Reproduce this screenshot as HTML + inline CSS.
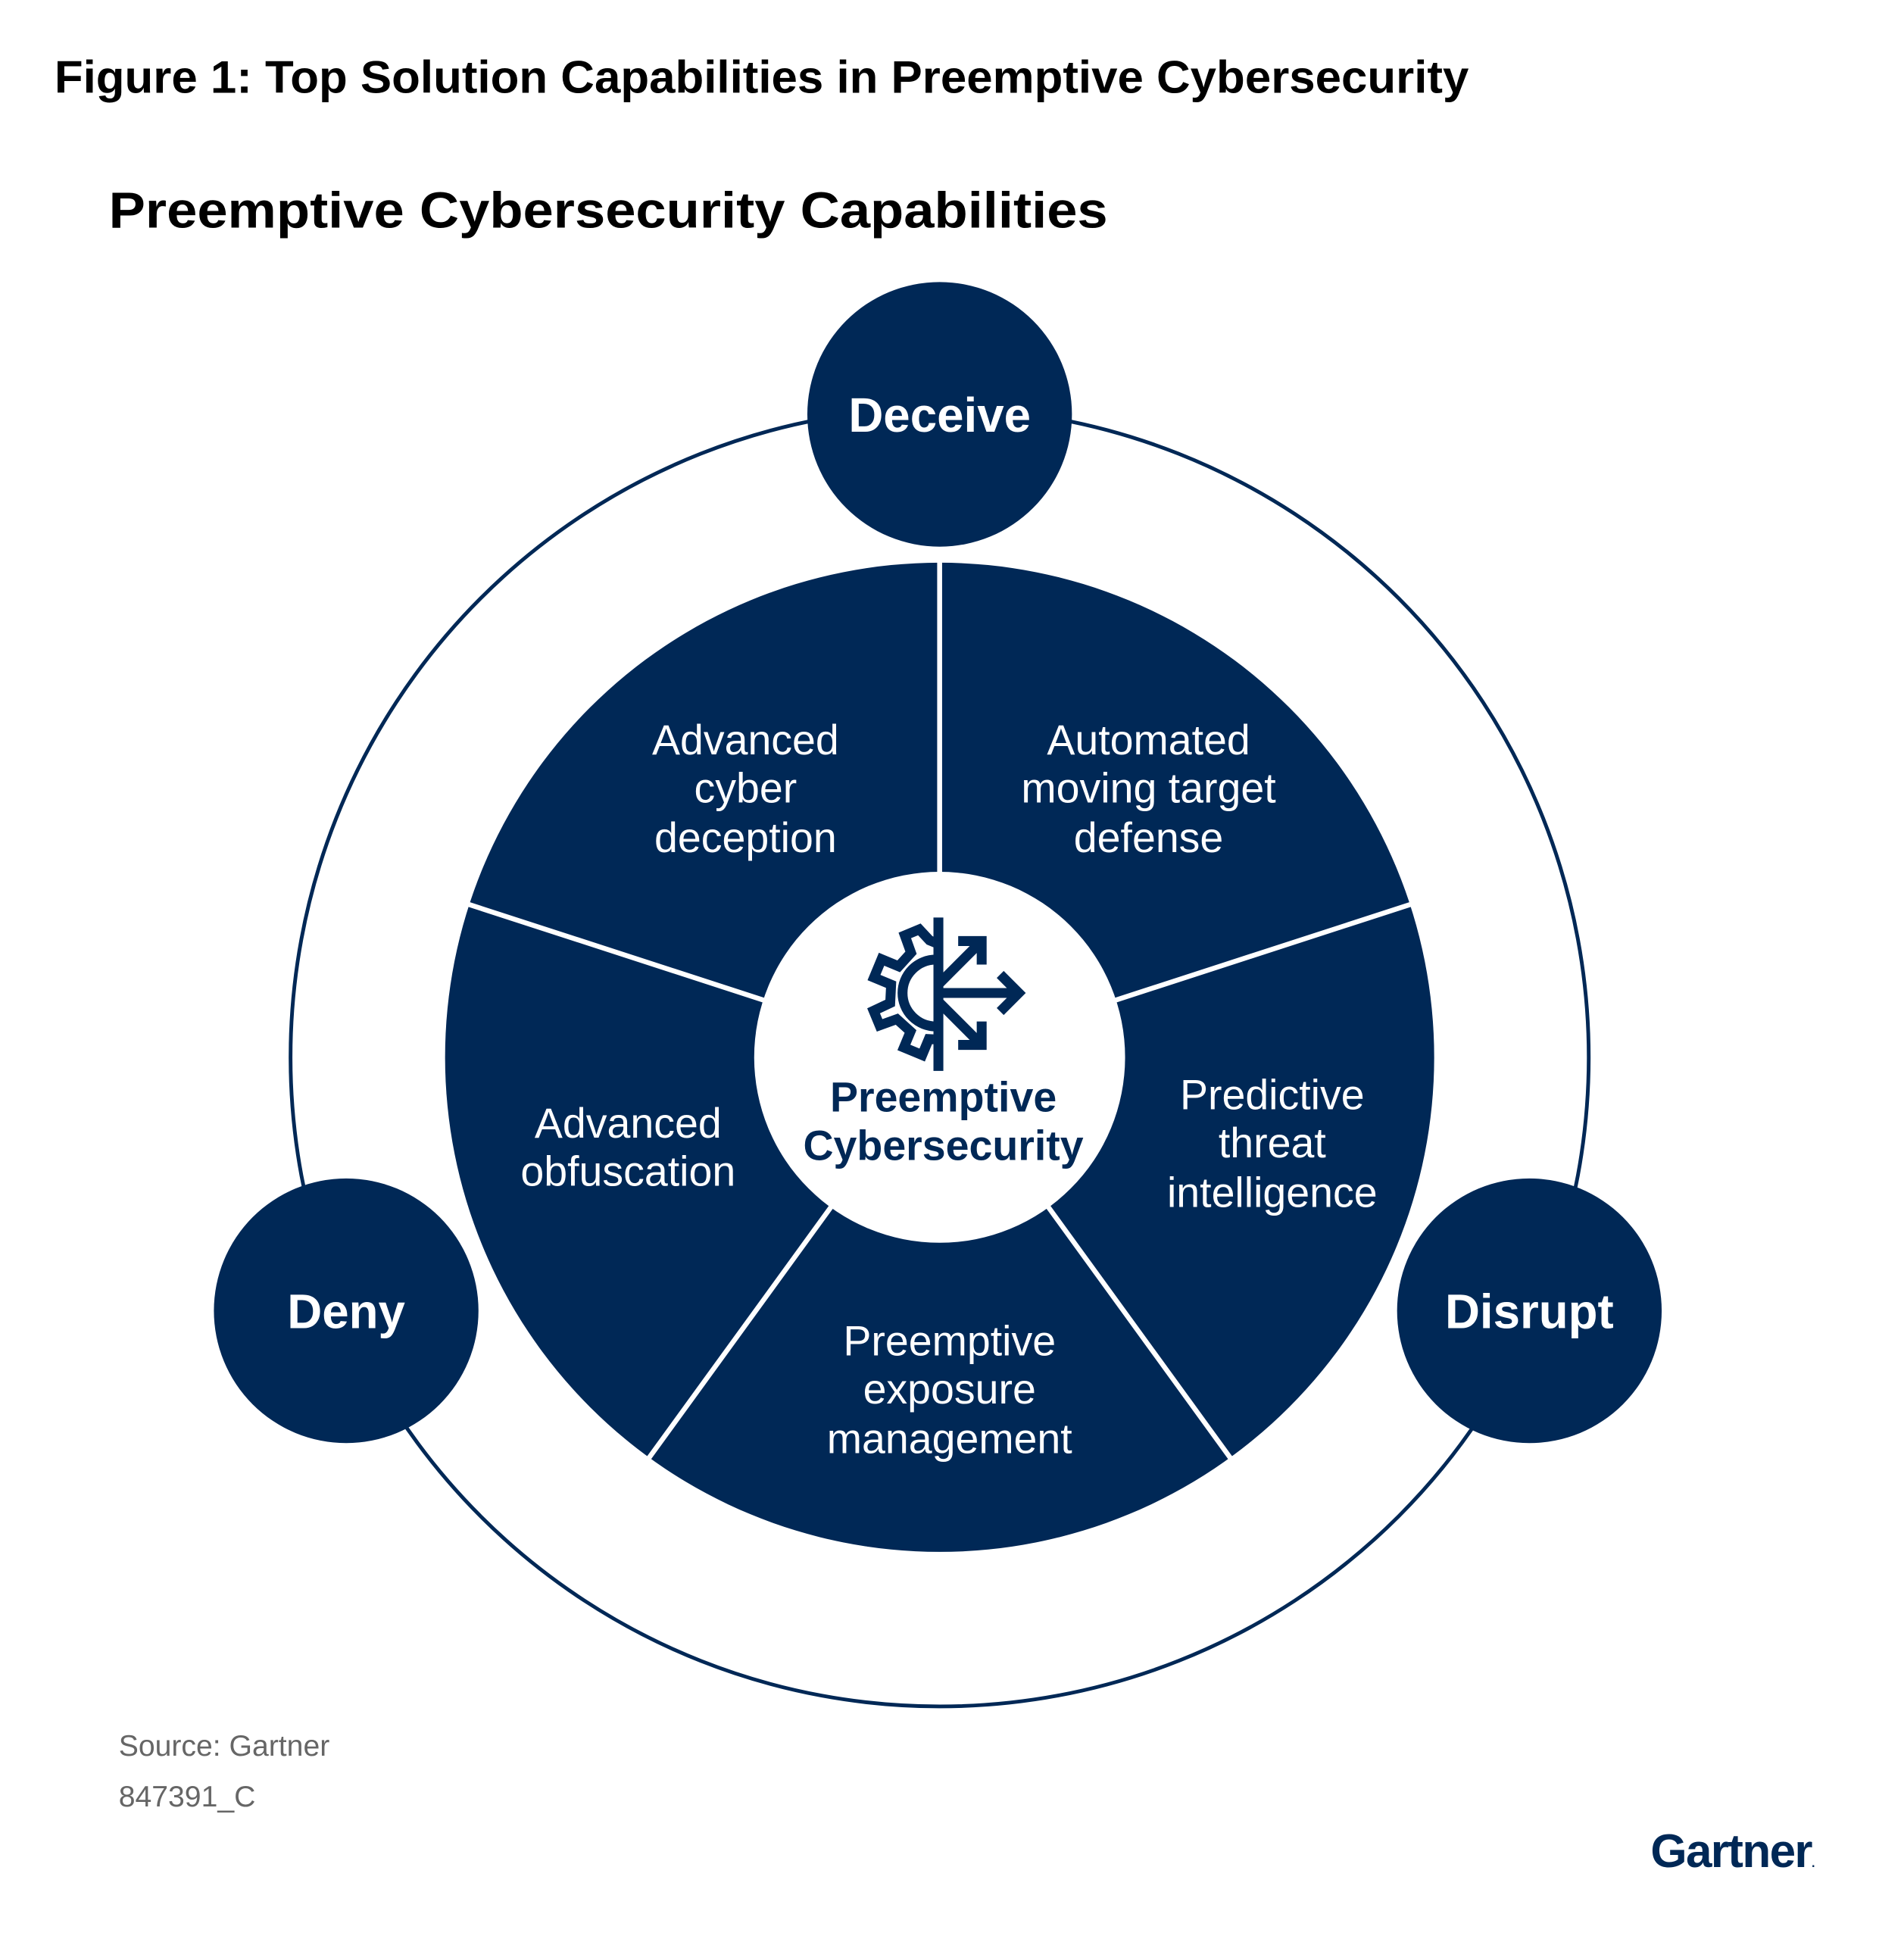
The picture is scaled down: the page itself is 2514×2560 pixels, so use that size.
<!DOCTYPE html>
<html><head><meta charset="utf-8"><style>
html,body{margin:0;padding:0;background:#fff;}
svg{display:block;}
text{font-family:"Liberation Sans",Arial,sans-serif;}
</style></head><body>
<svg width="2514" height="2560" viewBox="0 0 1540 1568" xmlns="http://www.w3.org/2000/svg">
<defs><clipPath id="lh"><rect x="600" y="700" width="155" height="200"/></clipPath></defs>
<text x="44" y="75" font-size="37" font-weight="bold" fill="#000" textLength="1144" lengthAdjust="spacingAndGlyphs">Figure 1: Top Solution Capabilities in Preemptive Cybersecurity</text>
<text x="88" y="184" font-size="41" font-weight="bold" fill="#000" textLength="808" lengthAdjust="spacingAndGlyphs">Preemptive Cybersecurity Capabilities</text>
<circle cx="760" cy="855" r="525" fill="none" stroke="#002856" stroke-width="3"/>
<circle cx="760" cy="855" r="400" fill="#002856"/>
<g stroke="#fff" stroke-width="4">
<line x1="760" y1="855" x2="760" y2="450"/>
<line x1="760" y1="855" x2="1145" y2="730"/>
<line x1="760" y1="855" x2="998" y2="1183"/>
<line x1="760" y1="855" x2="522" y2="1183"/>
<line x1="760" y1="855" x2="375" y2="730"/>
</g>
<circle cx="760" cy="855" r="150" fill="#fff"/>
<circle cx="760" cy="335" r="107" fill="#002856"/>
<circle cx="280" cy="1060" r="107" fill="#002856"/>
<circle cx="1237" cy="1060" r="107" fill="#002856"/>
<g fill="#fff" font-weight="bold" font-size="39" text-anchor="middle">
<text x="760" y="349">Deceive</text>
<text x="280" y="1074">Deny</text>
<text x="1237" y="1074">Disrupt</text>
</g>
<g fill="#fff" font-size="34" text-anchor="middle">
<text x="603" y="610">Advanced</text><text x="603" y="649">cyber</text><text x="603" y="689">deception</text>
<text x="929" y="610">Automated</text><text x="929" y="649">moving target</text><text x="929" y="689">defense</text>
<text x="1029" y="897">Predictive</text><text x="1029" y="936">threat</text><text x="1029" y="976">intelligence</text>
<text x="768" y="1096">Preemptive</text><text x="768" y="1135">exposure</text><text x="768" y="1175">management</text>
<text x="508" y="920">Advanced</text><text x="508" y="959">obfuscation</text>
</g>
<g fill="#002856" font-weight="bold" font-size="34" text-anchor="middle">
<text x="763" y="899">Preemptive</text><text x="763" y="938">Cybersecurity</text>
</g>
<g stroke="#002856" stroke-width="8" fill="none">
<g clip-path="url(#lh)">
<polygon points="750,746 766,746 766,760 780,765 791,755 800,764 790,775 795,789 810,789 810,805 795,805 790,819 800,830 791,839 780,829 766,834 766,848 750,848 750,834 736,829 725,839 716,830 726,819 721,805 706,805 706,789 721,789 726,775 716,764 725,755 736,760 750,760" transform="translate(0,6) rotate(22.5 758 797)"/>
</g>
<path d="M757,776 A26,26 0 0,0 757,830"/>
<line x1="759" y1="742" x2="759" y2="866"/>
<line x1="759" y1="803" x2="824" y2="803"/>
<polyline points="809,788 824,803 809,818"/>
<line x1="759" y1="796" x2="793" y2="762"/>
<polyline points="775,761 794,761 794,780"/>
<line x1="759" y1="810" x2="793" y2="844"/>
<polyline points="775,845 794,845 794,826"/>
</g>
<g fill="#666" font-size="24">
<text x="96" y="1420">Source: Gartner</text>
<text x="96" y="1461">847391_C</text>
</g>
<text x="1335" y="1510" font-size="38" font-weight="bold" fill="#002856" letter-spacing="-1">Gartner<tspan font-size="10">.</tspan></text>
</svg>
</body></html>
